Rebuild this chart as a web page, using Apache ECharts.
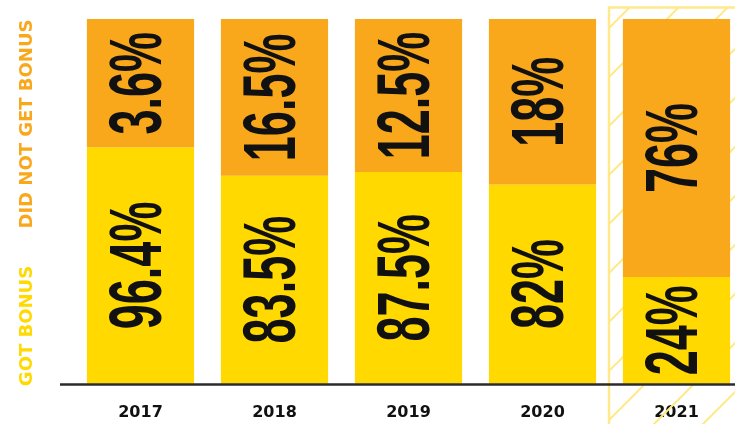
<!DOCTYPE html>
<html><head><meta charset="utf-8">
<script src="https://cdn.jsdelivr.net/npm/echarts@6/dist/echarts.min.js"></script>
<style>html,body{margin:0;padding:0;background:#fff}#c{width:735px;height:424px}</style>
</head><body><div id="c"></div>
<script>
// Categories
const years = ['2017', '2018', '2019', '2020', '2021'];
// Printed percentages (label text)
const gotBonusLabel = [96.4, 83.5, 87.5, 82, 24];
const noBonusLabel = [3.6, 16.5, 12.5, 18, 76];
// Bar shares as drawn in the picture (the artwork is not to scale)
const gotBonusDrawn = [64.8, 57.0, 58.0, 54.6, 29.2];
const noBonusDrawn = [35.2, 43.0, 42.0, 45.4, 70.8];
const highlightYear = '2021';
const legendGot = 'GOT BONUS';
const legendNot = 'DID NOT GET BONUS';

const YELLOW = '#FFD900', ORANGE = '#F9A81C', HATCH = '#FFE98A', INK = '#111111';

function hatchPattern() {
  const s = 49;
  const c = document.createElement('canvas');
  c.width = s; c.height = s;
  const g = c.getContext('2d');
  g.strokeStyle = HATCH; g.lineWidth = 2;
  g.beginPath();
  g.moveTo(0, s); g.lineTo(s, 0);
  g.moveTo(-2, 2); g.lineTo(2, -2);
  g.moveTo(s - 2, s + 2); g.lineTo(s + 2, s - 2);
  g.stroke();
  return c;
}
const pat = hatchPattern();

// label segments
const segs = [];
years.forEach((y, i) => {
  segs.push({ v: [i, gotBonusDrawn[i] / 2], t: gotBonusLabel[i] + '%' });
  segs.push({ v: [i, gotBonusDrawn[i] + noBonusDrawn[i] / 2], t: noBonusLabel[i] + '%' });
});

const chart = echarts.init(document.getElementById('c'), null, { renderer: 'canvas' });
chart.setOption({
  animation: false,
  grid: { left: 73.5, width: 670, top: 19, bottom: 40.5, outerBoundsMode: 'none', containLabel: false },
  xAxis: {
    type: 'category', data: years,
    axisLine: { show: false }, axisTick: { show: false },
    axisLabel: { color: INK, fontFamily: 'DejaVu Sans', fontWeight: 'bold', fontSize: 16, margin: 21 }
  },
  yAxis: { type: 'value', min: 0, max: 100, show: false, splitLine: { show: false } },
  series: [
    {
      type: 'custom', z: 1, silent: true, clip: false,
      data: [[years.indexOf(highlightYear), 100]],
      renderItem(params, api) {
        const top = api.coord([api.value(0), api.value(1)]);
        const band = api.size([1, 0])[0];
        const x0 = top[0] - band / 2 - 0.5;
        return {
          type: 'rect',
          shape: { x: x0, y: top[1] - 11.5, width: band + 30, height: 500 },
          style: { fill: { image: pat, repeat: 'repeat' }, stroke: HATCH, lineWidth: 2.5 }
        };
      }
    },
    {
      type: 'bar', stack: 'a', z: 2, barCategoryGap: '20%',
      data: gotBonusDrawn, itemStyle: { color: YELLOW }
    },
    {
      type: 'bar', stack: 'a', z: 2, barCategoryGap: '20%',
      data: noBonusDrawn, itemStyle: { color: ORANGE }
    },
    {
      type: 'custom', z: 5, silent: true, clip: false,
      data: segs.map(s => s.v),
      renderItem(params, api) {
        const p = api.coord([api.value(0), api.value(1)]);
        return {
          type: 'text', x: p[0], y: p[1], rotation: Math.PI / 2, scaleX: 0.6,
          style: {
            text: segs[params.dataIndex].t, fill: INK,
            fontFamily: 'Liberation Sans', fontWeight: 'bold', fontSize: 75,
            align: 'center', verticalAlign: 'middle'
          }
        };
      }
    }
  ],
  graphic: [
    { type: 'line', z: 100, shape: { x1: 60, y1: 384.5, x2: 735, y2: 384.5 }, style: { stroke: '#2b2b2b', lineWidth: 2.5 } },
    { type: 'text', z: 100, x: 27, y: 326, rotation: Math.PI / 2,
      style: { text: legendGot, fill: YELLOW, fontFamily: 'DejaVu Sans', fontWeight: 'bold', fontSize: 18, align: 'center', verticalAlign: 'middle' } },
    { type: 'text', z: 100, x: 27, y: 124, rotation: Math.PI / 2,
      style: { text: legendNot, fill: ORANGE, fontFamily: 'DejaVu Sans', fontWeight: 'bold', fontSize: 18, align: 'center', verticalAlign: 'middle' } }
  ]
});
</script>
</body></html>
